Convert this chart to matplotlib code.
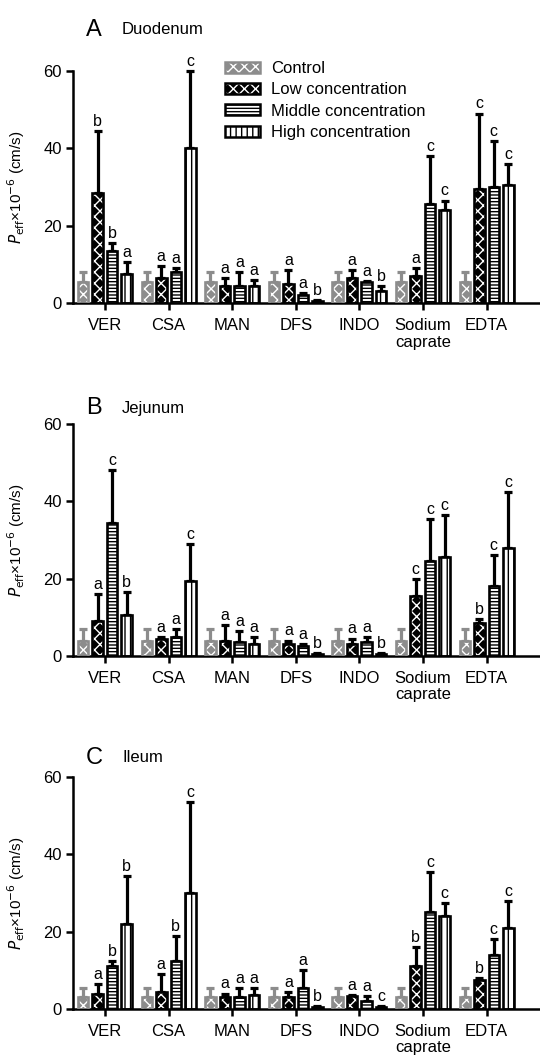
import numpy as np
import matplotlib
matplotlib.use('Agg')
import matplotlib.pyplot as plt
from matplotlib.patches import Patch
from matplotlib.legend_handler import HandlerTuple

plt.rcParams['font.family'] = ['Liberation Sans', 'DejaVu Sans']
plt.rcParams['hatch.linewidth'] = 1.0

drugs = ['VER', 'CSA', 'MAN', 'DFS', 'INDO', 'Sodium\ncaprate', 'EDTA']
groups = ['Control', 'Low concentration', 'Middle concentration', 'High concentration']

# rows: control, low, middle, high ; columns follow drugs
duo_mean = [[5.5, 5.5, 5.5, 5.5, 5.5, 5.5, 5.5],
            [28.5, 6.5, 4.5, 5.0, 6.5, 7.0, 29.5],
            [13.5, 8.0, 4.5, 2.0, 5.5, 25.5, 30.0],
            [7.5, 40.0, 4.5, 0.5, 3.0, 24.0, 30.5]]
duo_sd = [[2.5, 2.5, 2.5, 2.5, 2.5, 2.5, 2.5],
          [16.0, 3.0, 2.0, 3.5, 2.0, 2.0, 19.5],
          [2.0, 1.0, 3.5, 0.5, 0.3, 12.5, 12.0],
          [3.0, 20.0, 1.5, 0.2, 1.5, 2.5, 5.5]]
duo_sig = [['b', 'a', 'a', 'a', 'a', 'a', 'c'],
           ['b', 'a', 'a', 'a', 'a', 'c', 'c'],
           ['a', 'c', 'a', 'b', 'b', 'c', 'c']]

jej_mean = [[4.0, 4.0, 4.0, 4.0, 4.0, 4.0, 4.0],
            [9.0, 4.5, 4.0, 3.0, 3.0, 15.5, 8.5],
            [34.5, 5.0, 3.5, 2.5, 3.5, 24.5, 18.0],
            [10.5, 19.5, 3.0, 0.5, 0.5, 25.5, 28.0]]
jej_sd = [[3.0, 3.0, 3.0, 3.0, 3.0, 3.0, 3.0],
          [7.0, 0.4, 4.0, 1.0, 1.5, 4.5, 1.0],
          [13.5, 2.0, 3.0, 0.5, 1.5, 11.0, 8.0],
          [6.0, 9.5, 2.0, 0.2, 0.2, 11.0, 14.5]]
jej_sig = [['a', 'a', 'a', 'a', 'a', 'c', 'b'],
           ['c', 'a', 'a', 'a', 'a', 'c', 'c'],
           ['b', 'c', 'a', 'b', 'b', 'c', 'c']]

ile_mean = [[3.2, 3.2, 3.2, 3.2, 3.2, 3.2, 3.2],
            [4.0, 4.5, 3.0, 3.0, 3.3, 11.0, 7.5],
            [11.0, 12.5, 3.0, 5.5, 2.0, 25.0, 14.0],
            [22.0, 30.0, 3.5, 0.5, 0.5, 24.0, 21.0]]
ile_sd = [[2.3, 2.3, 2.3, 2.3, 2.3, 2.3, 2.3],
          [2.5, 4.5, 1.0, 1.5, 0.3, 5.0, 0.5],
          [1.5, 6.3, 2.5, 4.5, 1.3, 10.5, 4.0],
          [12.5, 23.5, 2.0, 0.2, 0.2, 3.5, 7.0]]
ile_sig = [['a', 'a', 'a', 'a', 'a', 'b', 'b'],
           ['b', 'b', 'a', 'a', 'a', 'c', 'c'],
           ['b', 'c', 'a', 'b', 'c', 'c', 'c']]

panels = [('A', 'Duodenum', duo_mean, duo_sd, duo_sig),
          ('B', 'Jejunum', jej_mean, jej_sd, jej_sig),
          ('C', 'Ileum', ile_mean, ile_sd, ile_sig)]

gray = '#8c8c8c'
face = [gray, 'black', 'white', 'white']
edge = [gray, 'black', 'black', 'black']
hatch = ['xxx', 'xxx', '-----', '|||']
hcol = ['white', 'white', 'black', 'black']

bottoms = [0.7133, 0.3794, 0.0454]
title_y = [30, 408, 758]
w = 0.165
step = 0.228
x = np.arange(len(drugs))

fig = plt.figure(figsize=(5.4, 10.57), dpi=100)

for p in range(3):
    letter, name, mean, sd, sig = panels[p]
    ax = fig.add_axes([0.135, bottoms[p], 0.865, 0.2195])
    for g in range(4):
        xs = x + (g - 1.5) * step
        ax.bar(xs, mean[g], w, color=face[g], edgecolor=hcol[g], hatch=hatch[g], linewidth=0, zorder=2)
        ax.bar(xs, mean[g], w, fill=False, edgecolor=edge[g], linewidth=1.9, zorder=3)
        eb = ax.errorbar(xs, mean[g], yerr=[np.zeros(len(drugs)), sd[g]], fmt='none',
                         ecolor=edge[g], elinewidth=2.3, capsize=3, capthick=2.3, zorder=1)
        for c in eb.get_children():
            c.set_clip_on(False)
        if g > 0:
            for i in range(len(drugs)):
                ax.annotate(sig[g - 1][i], (xs[i], mean[g][i] + sd[g][i]), xytext=(0, 1.5),
                            textcoords='offset points', ha='center', va='bottom',
                            fontsize=11.5, annotation_clip=False)
    ax.set_xlim(-0.503, 6.84)
    ax.set_ylim(0, 60)
    ax.set_yticks([0, 20, 40, 60])
    ax.set_xticks(x)
    ax.set_xticklabels(drugs, linespacing=1.1)
    ax.spines['top'].set_visible(False)
    ax.spines['right'].set_visible(False)
    ax.spines['left'].set_linewidth(1.8)
    ax.spines['bottom'].set_linewidth(1.8)
    ax.tick_params(length=5, width=1.8, labelsize=12, pad=3)
    ax.tick_params(axis='x', pad=6)
    ax.set_ylabel(r'$P_{\mathrm{eff}}$×10$^{-6}$ (cm/s)', fontsize=11)
    ax.yaxis.set_label_coords(-0.098, 0.5)
    fig.text(94 / 540, 1 - title_y[p] / 1057, letter, fontsize=17, ha='center', va='center')
    fig.text(122 / 540, 1 - title_y[p] / 1057, name, fontsize=12, ha='left', va='center')
    if p == 0:
        handles = []
        for g in range(4):
            handles.append((Patch(facecolor=face[g], edgecolor=hcol[g], hatch=hatch[g], linewidth=0),
                            Patch(fill=False, edgecolor=edge[g], linewidth=1.8)))
        fig.legend(handles, groups, handler_map={tuple: HandlerTuple(ndivide=1, pad=0)},
                   loc='upper left', bbox_to_anchor=(225 / 540, 1 - 61 / 1057),
                   frameon=False, fontsize=12, handlelength=2.1, handleheight=0.65,
                   handletextpad=0.65, labelspacing=0.38, borderpad=0, borderaxespad=0)

fig.savefig('out.png', dpi=100)
